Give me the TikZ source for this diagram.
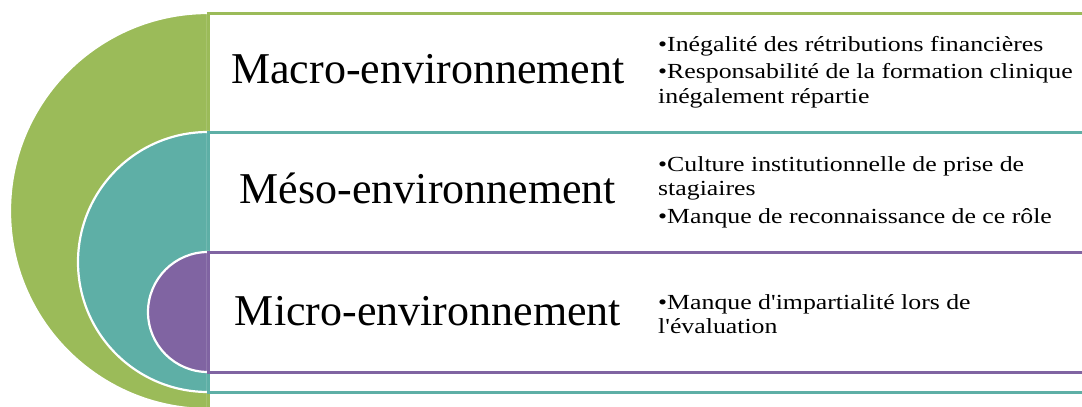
\documentclass[tikz,border=0pt]{standalone}
\usepackage{fontspec}
\setmainfont{Liberation Serif}
\newfontfamily\listfont[FakeStretch=1.2,Ligatures=TeXOff]{Liberation Serif}
\definecolor{macrogreen}{HTML}{9BBB59}
\definecolor{mesoteal}{HTML}{5EAFA6}
\definecolor{microviolet}{HTML}{8064A2}
\tikzset{
  level/.style={font=\fontsize{44}{50}\selectfont,anchor=base,inner sep=0pt},
  items/.style={font=\listfont\fontsize{21.5}{24.5}\selectfont,anchor=west,align=left,inner sep=0pt},
}

\begin{document}
\begin{tikzpicture}[x=1pt,y=-1pt]
\useasboundingbox (0,0) rectangle (1082,407);
\clip (0,0) rectangle (1082,407);

% Nested half discs and their bands
\foreach \col/\ya/\rad in {macrogreen/13/198,mesoteal/132/130,microviolet/252/60}{
  \filldraw[fill=\col,draw=white,line width=2.2pt] (208,\ya) arc[start angle=90,end angle=270,radius=\rad pt] -- cycle;
  \draw[\col,line width=3pt,fill=white] (208,\ya) rectangle (1095,{\ya+2*\rad});
}

% Levels
\node[level] (macro) at (428,83) {Macro-environnement};
\node[level] (meso) at (428,203) {Méso-environnement};
\node[level] (micro) at (428,325) {Micro-environnement};

% Bullet lists
\node[items] (macrolist) at (658,72) {•Inégalité des rétributions financières\\[3pt]•Responsabilité de la formation clinique\\inégalement répartie};
\node[items] (mesolist) at (658,192) {•Culture institutionnelle de prise de\\stagiaires\\[3pt]•Manque de reconnaissance de ce rôle};
\node[items] (microlist) at (658,314) {•Manque d'impartialité lors de\\l'évaluation};
\end{tikzpicture}
\end{document}
